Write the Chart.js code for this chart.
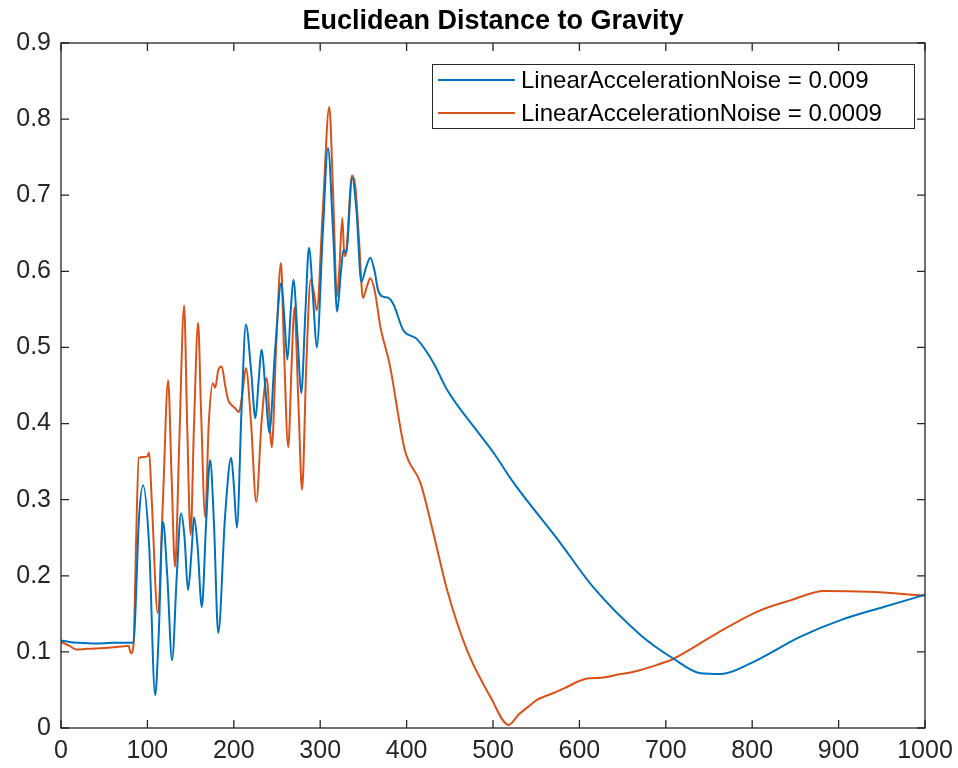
<!DOCTYPE html>
<html>
<head>
<meta charset="utf-8">
<script src="https://cdn.jsdelivr.net/npm/chart.js@4/dist/chart.umd.min.js"></script>
<style>
  html, body { margin: 0; padding: 0; background: #fff; }
  canvas { display: block; }
</style>
</head>
<body>
<canvas id="gravityChart" width="958" height="768"></canvas>
<script>
// values
const chartTitle = 'Euclidean Distance to Gravity';
const seriesLabels = ['LinearAccelerationNoise = 0.009', 'LinearAccelerationNoise = 0.0009'];
const seriesColors = ['#0072BD', '#D95319'];
const xTicks = [0, 100, 200, 300, 400, 500, 600, 700, 800, 900, 1000];
const yTicks = [0, 0.1, 0.2, 0.3, 0.4, 0.5, 0.6, 0.7, 0.8, 0.9];

const blueX = [0, 10, 20, 40, 60, 80, 84, 86, 90, 95, 102, 109, 113, 118, 123, 128.6, 134, 139, 143, 147, 151, 154, 158, 163, 168, 172.6, 177, 182, 190, 197, 200, 203.6, 209, 214, 220, 225, 229, 232, 237, 241, 248, 255, 259, 262, 266, 269, 274, 278, 283, 287, 292, 296, 303, 309, 315, 319.6, 324, 327, 330, 337, 342, 347.6, 353, 358, 363, 367, 372, 379, 385, 396, 412, 431, 447, 483, 501, 524, 578, 616, 671, 709, 740, 764, 798, 856, 903, 952, 1000];
const blueY = [0.115, 0.113, 0.112, 0.111, 0.112, 0.112, 0.112, 0.15, 0.27, 0.319, 0.24, 0.043, 0.12, 0.271, 0.2, 0.089, 0.2, 0.282, 0.25, 0.181, 0.23, 0.277, 0.24, 0.159, 0.27, 0.352, 0.27, 0.125, 0.28, 0.355, 0.32, 0.263, 0.42, 0.53, 0.47, 0.407, 0.46, 0.497, 0.44, 0.388, 0.5, 0.585, 0.53, 0.484, 0.55, 0.589, 0.51, 0.44, 0.55, 0.631, 0.56, 0.5, 0.65, 0.762, 0.65, 0.547, 0.6, 0.628, 0.625, 0.723, 0.68, 0.586, 0.605, 0.618, 0.6, 0.575, 0.567, 0.565, 0.556, 0.523, 0.511, 0.48, 0.444, 0.388, 0.361, 0.322, 0.243, 0.185, 0.122, 0.091, 0.072, 0.071, 0.085, 0.12, 0.142, 0.159, 0.175];

const orangeX = [0, 10, 18, 30, 50, 70, 78, 81, 84, 87, 90, 96, 100, 102, 105, 112, 118, 124, 128, 132, 137, 142.5, 146, 150, 154, 158.7, 162, 166.9, 171, 175.7, 178.5, 182, 186, 190, 193.5, 197, 201.6, 206, 210, 214, 220, 226, 232, 238, 244, 249, 254.6, 258, 263, 267, 270, 275, 279, 284, 289, 293, 296, 303, 310.5, 315, 319.4, 322, 325.6, 328, 330, 336.8, 340.7, 345, 349.5, 354, 358, 363, 370, 380, 398, 416, 431, 447, 470, 497, 518, 530, 543, 551, 570, 582, 609, 625, 648, 663, 690, 709, 760, 806, 845, 883, 934, 1000];
const orangeY = [0.113, 0.108, 0.103, 0.104, 0.105, 0.107, 0.108, 0.098, 0.11, 0.25, 0.355, 0.356, 0.357, 0.362, 0.3, 0.151, 0.3, 0.457, 0.33, 0.212, 0.38, 0.555, 0.4, 0.254, 0.4, 0.532, 0.42, 0.277, 0.4, 0.453, 0.447, 0.47, 0.475, 0.45, 0.431, 0.425, 0.42, 0.415, 0.44, 0.473, 0.4, 0.297, 0.4, 0.46, 0.369, 0.5, 0.611, 0.5, 0.369, 0.48, 0.553, 0.42, 0.313, 0.48, 0.589, 0.57, 0.549, 0.68, 0.816, 0.7, 0.567, 0.6, 0.67, 0.62, 0.624, 0.726, 0.711, 0.64, 0.565, 0.58, 0.591, 0.575, 0.525, 0.48, 0.365, 0.322, 0.256, 0.181, 0.102, 0.041, 0.004, 0.018, 0.03, 0.037, 0.046, 0.052, 0.065, 0.066, 0.071, 0.074, 0.083, 0.091, 0.125, 0.153, 0.168, 0.18, 0.179, 0.174];

const axisColor = '#262626';
const fontFamily = '"Liberation Sans", Arial, sans-serif';

function toPoints(xs, ys) {
    return xs.map((x, i) => ({ x: x, y: ys[i] }));
}

// title, box, inward ticks and legend the MATLAB way
const matlabLook = {
    id: 'matlabLook',
    afterDatasetsDraw(chart) {
        const ctx = chart.ctx;
        const a = chart.chartArea;
        const xs = chart.scales.x, ys = chart.scales.y;
        const tl = 8;
        ctx.save();
        ctx.strokeStyle = axisColor;
        ctx.lineWidth = 1.3;
        ctx.strokeRect(a.left, a.top, a.right - a.left, a.bottom - a.top);
        ctx.beginPath();
        xTicks.forEach(v => {
            const px = xs.getPixelForValue(v);
            ctx.moveTo(px, a.bottom); ctx.lineTo(px, a.bottom - tl);
            ctx.moveTo(px, a.top); ctx.lineTo(px, a.top + tl);
        });
        yTicks.forEach(v => {
            const py = ys.getPixelForValue(v);
            ctx.moveTo(a.left, py); ctx.lineTo(a.left + tl, py);
            ctx.moveTo(a.right, py); ctx.lineTo(a.right - tl, py);
        });
        ctx.stroke();

        // title
        ctx.fillStyle = '#000';
        ctx.font = 'bold 27px ' + fontFamily;
        ctx.textAlign = 'center';
        ctx.textBaseline = 'middle';
        ctx.fillText(chartTitle, (a.left + a.right) / 2, 22);

        // legend box
        const bx = 432, by = 64, bw = 482, bh = 64;
        ctx.fillStyle = '#fff';
        ctx.fillRect(bx, by, bw, bh);
        ctx.lineWidth = 1;
        ctx.strokeStyle = axisColor;
        ctx.strokeRect(bx + 0.5, by + 0.5, bw, bh);
        ctx.font = '24px ' + fontFamily;
        ctx.textAlign = 'left';
        seriesLabels.forEach((lbl, i) => {
            const ly = by + 16 + i * 33;
            ctx.strokeStyle = seriesColors[i];
            ctx.lineWidth = 2;
            ctx.beginPath();
            ctx.moveTo(bx + 6, ly); ctx.lineTo(bx + 83, ly);
            ctx.stroke();
            ctx.fillStyle = '#000';
            ctx.fillText(lbl, bx + 89, ly + 1);
        });
        ctx.restore();
    }
};

new Chart(document.getElementById('gravityChart').getContext('2d'), {
    type: 'line',
    data: {
        datasets: [
            { label: seriesLabels[0], data: toPoints(blueX, blueY), borderColor: seriesColors[0] },
            { label: seriesLabels[1], data: toPoints(orangeX, orangeY), borderColor: seriesColors[1] }
        ]
    },
    options: {
        responsive: false,
        animation: false,
        devicePixelRatio: 1,
        layout: { padding: { top: 43, right: 33, left: 0, bottom: 0 } },
        elements: {
            point: { radius: 0 },
            line: { borderWidth: 2, cubicInterpolationMode: 'monotone', fill: false }
        },
        plugins: {
            legend: { display: false },
            title: { display: false },
            tooltip: { enabled: false }
        },
        scales: {
            x: {
                type: 'linear', min: 0, max: 1000,
                afterBuildTicks: s => { s.ticks = xTicks.map(v => ({ value: v })); },
                afterFit: s => { s.height = 40; s.paddingLeft = 0; s.paddingRight = 0; },
                grid: { display: false, drawTicks: false },
                border: { display: false },
                ticks: {
                    padding: 8, color: axisColor, font: { family: fontFamily, size: 25 }, maxRotation: 0,
                    callback: v => String(v)
                }
            },
            y: {
                type: 'linear', min: 0, max: 0.9,
                afterBuildTicks: s => { s.ticks = yTicks.map(v => ({ value: v })); },
                afterFit: s => { s.width = 61; s.paddingTop = 0; s.paddingBottom = 0; },
                grid: { display: false, drawTicks: false },
                border: { display: false },
                ticks: {
                    padding: 10, color: axisColor, font: { family: fontFamily, size: 25 },
                    callback: v => v === 0 ? '0' : v.toFixed(1)
                }
            }
        }
    },
    plugins: [matlabLook]
});
</script>
</body>
</html>
